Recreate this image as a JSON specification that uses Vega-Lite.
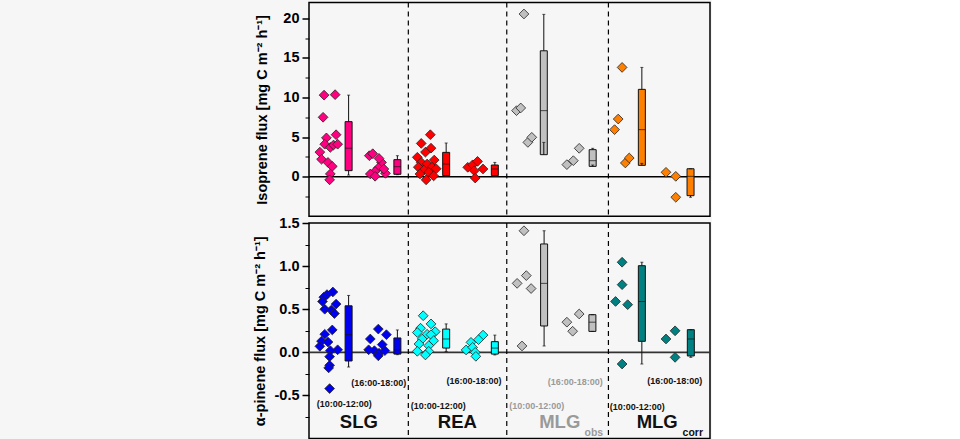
{
  "$schema": "https://vega.github.io/schema/vega-lite/v6.json",
  "background": "#f6f6f6",
  "autosize": {"type": "pad"},
  "padding": {"left": 251, "top": 0.5, "right": 0, "bottom": 0},
  "spacing": 6.5,
  "bounds": "flush",
  "config": {
    "view": {"stroke": "#000", "strokeWidth": 1.5},
    "font": "Liberation Sans",
    "axisY": {"labelFont": "Liberation Sans", "labelFontSize": 14.5, "labelFontWeight": "bold", "labelColor": "#000", "tickColor": "#000", "tickSize": 7, "tickWidth": 1.5, "labelPadding": 3, "domain": false, "grid": false, "titleFont": "Liberation Sans", "titleFontSize": 14.5, "titleFontWeight": "bold", "titleColor": "#000"}
  },
  "datasets": {
    "zero": [{"v": 0}],
    "divs": [{"x": 9.65}, {"x": 19.72}, {"x": 30.12}],
    "isoPts": [
      {"s": "SLG iso", "x": 1.03, "v": 10.3}, {"s": "SLG iso", "x": 2.16, "v": 10.36}, {"s": "SLG iso", "x": 0.93, "v": 7.5}, {"s": "SLG iso", "x": 2.26, "v": 5.3}, {"s": "SLG iso", "x": 1.27, "v": 4.9}, {"s": "SLG iso", "x": 1.1, "v": 4.1}, {"s": "SLG iso", "x": 1.67, "v": 3.7}, {"s": "SLG iso", "x": 2.0, "v": 4.0}, {"s": "SLG iso", "x": 2.42, "v": 4.1}, {"s": "SLG iso", "x": 0.6, "v": 3.1}, {"s": "SLG iso", "x": 0.77, "v": 2.2}, {"s": "SLG iso", "x": 1.43, "v": 1.8}, {"s": "SLG iso", "x": 1.87, "v": 1.3}, {"s": "SLG iso", "x": 1.67, "v": 0.35}, {"s": "SLG iso", "x": 1.6, "v": -0.4},
      {"s": "SLG iso", "x": 5.66, "v": 2.65}, {"s": "SLG iso", "x": 6.01, "v": 2.9}, {"s": "SLG iso", "x": 6.91, "v": 1.8}, {"s": "SLG iso", "x": 6.65, "v": 2.3}, {"s": "SLG iso", "x": 6.58, "v": 1.1}, {"s": "SLG iso", "x": 6.25, "v": 0.67}, {"s": "SLG iso", "x": 5.76, "v": 0.34}, {"s": "SLG iso", "x": 6.25, "v": 0.05}, {"s": "SLG iso", "x": 7.31, "v": 0.42}, {"s": "SLG iso", "x": 7.15, "v": 0.97},
      {"s": "REA iso", "x": 11.9, "v": 5.3}, {"s": "REA iso", "x": 10.97, "v": 4.2}, {"s": "REA iso", "x": 11.97, "v": 3.6}, {"s": "REA iso", "x": 11.4, "v": 3.1}, {"s": "REA iso", "x": 10.57, "v": 2.45}, {"s": "REA iso", "x": 12.3, "v": 2.1}, {"s": "REA iso", "x": 10.97, "v": 1.8}, {"s": "REA iso", "x": 11.57, "v": 1.6}, {"s": "REA iso", "x": 10.67, "v": 1.2}, {"s": "REA iso", "x": 12.07, "v": 1.2}, {"s": "REA iso", "x": 11.24, "v": 0.85}, {"s": "REA iso", "x": 12.5, "v": 1.0}, {"s": "REA iso", "x": 11.74, "v": 0.55}, {"s": "REA iso", "x": 10.84, "v": 0.34}, {"s": "REA iso", "x": 11.47, "v": -0.4}, {"s": "REA iso", "x": 12.24, "v": 0.1},
      {"s": "REA iso", "x": 15.73, "v": 1.18}, {"s": "REA iso", "x": 16.23, "v": 1.5}, {"s": "REA iso", "x": 16.73, "v": 1.93}, {"s": "REA iso", "x": 17.29, "v": 0.97}, {"s": "REA iso", "x": 16.39, "v": 0.76}, {"s": "REA iso", "x": 16.49, "v": -0.17},
      {"s": "MLGobs iso", "x": 21.48, "v": 20.55}, {"s": "MLGobs iso", "x": 20.72, "v": 8.34}, {"s": "MLGobs iso", "x": 21.15, "v": 8.68}, {"s": "MLGobs iso", "x": 21.88, "v": 4.33}, {"s": "MLGobs iso", "x": 22.28, "v": 4.97},
      {"s": "MLGobs iso", "x": 25.87, "v": 1.52}, {"s": "MLGobs iso", "x": 26.53, "v": 2.02}, {"s": "MLGobs iso", "x": 27.13, "v": 3.58},
      {"s": "MLGcorr iso", "x": 31.52, "v": 13.8}, {"s": "MLGcorr iso", "x": 31.12, "v": 7.28}, {"s": "MLGcorr iso", "x": 30.75, "v": 5.94}, {"s": "MLGcorr iso", "x": 31.85, "v": 1.73}, {"s": "MLGcorr iso", "x": 32.25, "v": 2.36},
      {"s": "MLGcorr iso", "x": 36.01, "v": 0.55}, {"s": "MLGcorr iso", "x": 37.01, "v": 0.04}, {"s": "MLGcorr iso", "x": 37.01, "v": -2.6}
    ],
    "isoBox": [
      {"s": "SLG iso", "x": 3.54, "lo": 0.2, "q1": 0.76, "med": 3.6, "q3": 6.95, "hi": 10.3},
      {"s": "SLG iso", "x": 8.53, "lo": 0.25, "q1": 0.3, "med": 1.26, "q3": 2.15, "hi": 2.65},
      {"s": "REA iso", "x": 13.52, "lo": 0.05, "q1": 0.13, "med": 1.6, "q3": 3.07, "hi": 4.25},
      {"s": "REA iso", "x": 18.5, "lo": 0.05, "q1": 0.13, "med": 0.97, "q3": 1.47, "hi": 1.8},
      {"s": "MLGobs iso", "x": 23.51, "lo": 4.33, "q1": 2.78, "med": 8.34, "q3": 15.9, "hi": 20.5},
      {"s": "MLGobs iso", "x": 28.51, "lo": 1.47, "q1": 1.3, "med": 2.02, "q3": 3.41, "hi": 3.58},
      {"s": "MLGcorr iso", "x": 33.54, "lo": 1.68, "q1": 1.43, "med": 5.94, "q3": 11.03, "hi": 13.8},
      {"s": "MLGcorr iso", "x": 38.52, "lo": -2.6, "q1": -2.4, "med": 0.04, "q3": 1.0, "hi": 1.0}
    ],
    "pinPts": [
      {"s": "SLG pin", "x": 1.93, "v": 0.7}, {"s": "SLG pin", "x": 1.33, "v": 0.67}, {"s": "SLG pin", "x": 1.0, "v": 0.64}, {"s": "SLG pin", "x": 0.87, "v": 0.59}, {"s": "SLG pin", "x": 2.26, "v": 0.56}, {"s": "SLG pin", "x": 1.1, "v": 0.5}, {"s": "SLG pin", "x": 1.77, "v": 0.49}, {"s": "SLG pin", "x": 2.09, "v": 0.45}, {"s": "SLG pin", "x": 1.87, "v": 0.26}, {"s": "SLG pin", "x": 1.1, "v": 0.21}, {"s": "SLG pin", "x": 0.77, "v": 0.13}, {"s": "SLG pin", "x": 1.43, "v": 0.12}, {"s": "SLG pin", "x": 0.6, "v": 0.07}, {"s": "SLG pin", "x": 2.42, "v": 0.03}, {"s": "SLG pin", "x": 1.67, "v": 0.02}, {"s": "SLG pin", "x": 1.6, "v": -0.05}, {"s": "SLG pin", "x": 1.6, "v": -0.15}, {"s": "SLG pin", "x": 1.5, "v": -0.18}, {"s": "SLG pin", "x": 1.6, "v": -0.42},
      {"s": "SLG pin", "x": 6.58, "v": 0.27}, {"s": "SLG pin", "x": 7.41, "v": 0.205}, {"s": "SLG pin", "x": 5.76, "v": 0.155}, {"s": "SLG pin", "x": 6.98, "v": 0.09}, {"s": "SLG pin", "x": 5.59, "v": 0.03}, {"s": "SLG pin", "x": 6.18, "v": 0.02}, {"s": "SLG pin", "x": 7.25, "v": 0.02}, {"s": "SLG pin", "x": 6.65, "v": -0.01}, {"s": "SLG pin", "x": 6.58, "v": -0.04},
      {"s": "REA pin", "x": 11.17, "v": 0.425}, {"s": "REA pin", "x": 11.97, "v": 0.33}, {"s": "REA pin", "x": 10.9, "v": 0.28}, {"s": "REA pin", "x": 10.57, "v": 0.23}, {"s": "REA pin", "x": 12.4, "v": 0.24}, {"s": "REA pin", "x": 11.57, "v": 0.21}, {"s": "REA pin", "x": 11.97, "v": 0.205}, {"s": "REA pin", "x": 11.07, "v": 0.155}, {"s": "REA pin", "x": 12.24, "v": 0.135}, {"s": "REA pin", "x": 10.74, "v": 0.097}, {"s": "REA pin", "x": 11.74, "v": 0.078}, {"s": "REA pin", "x": 10.57, "v": 0.012}, {"s": "REA pin", "x": 11.74, "v": 0.012}, {"s": "REA pin", "x": 11.4, "v": -0.03},
      {"s": "REA pin", "x": 17.29, "v": 0.2}, {"s": "REA pin", "x": 16.83, "v": 0.147}, {"s": "REA pin", "x": 16.06, "v": 0.116}, {"s": "REA pin", "x": 15.56, "v": 0.028}, {"s": "REA pin", "x": 16.23, "v": 0.058}, {"s": "REA pin", "x": 16.49, "v": 0.0}, {"s": "REA pin", "x": 16.56, "v": -0.046},
      {"s": "MLGobs pin", "x": 21.48, "v": 1.41}, {"s": "MLGobs pin", "x": 21.72, "v": 0.89}, {"s": "MLGobs pin", "x": 20.78, "v": 0.8}, {"s": "MLGobs pin", "x": 22.21, "v": 0.74}, {"s": "MLGobs pin", "x": 21.28, "v": 0.074},
      {"s": "MLGobs pin", "x": 27.13, "v": 0.445}, {"s": "MLGobs pin", "x": 25.87, "v": 0.35}, {"s": "MLGobs pin", "x": 26.46, "v": 0.245},
      {"s": "MLGcorr pin", "x": 31.52, "v": 1.045}, {"s": "MLGcorr pin", "x": 31.52, "v": 0.785}, {"s": "MLGcorr pin", "x": 30.85, "v": 0.59}, {"s": "MLGcorr pin", "x": 32.09, "v": 0.553}, {"s": "MLGcorr pin", "x": 31.52, "v": -0.135},
      {"s": "MLGcorr pin", "x": 36.94, "v": 0.25}, {"s": "MLGcorr pin", "x": 36.01, "v": 0.155}, {"s": "MLGcorr pin", "x": 36.94, "v": -0.058}
    ],
    "pinBox": [
      {"s": "SLG pin", "x": 3.54, "lo": -0.17, "q1": -0.1, "med": 0.205, "q3": 0.54, "hi": 0.66},
      {"s": "SLG pin", "x": 8.53, "lo": -0.027, "q1": -0.02, "med": 0.03, "q3": 0.167, "hi": 0.26},
      {"s": "REA pin", "x": 13.52, "lo": 0.01, "q1": 0.05, "med": 0.155, "q3": 0.27, "hi": 0.33},
      {"s": "REA pin", "x": 18.5, "lo": -0.03, "q1": -0.02, "med": 0.05, "q3": 0.124, "hi": 0.2},
      {"s": "MLGobs pin", "x": 23.54, "lo": 0.074, "q1": 0.306, "med": 0.8, "q3": 1.257, "hi": 1.41},
      {"s": "MLGobs pin", "x": 28.48, "lo": 0.243, "q1": 0.243, "med": 0.35, "q3": 0.437, "hi": 0.437},
      {"s": "MLGcorr pin", "x": 33.54, "lo": -0.135, "q1": 0.128, "med": 0.59, "q3": 1.005, "hi": 1.045},
      {"s": "MLGcorr pin", "x": 38.55, "lo": -0.058, "q1": -0.042, "med": 0.155, "q3": 0.263, "hi": 0.263}
    ],
    "times": [
      {"x": 3.09, "v": -0.6, "t": "(10:00-12:00)", "tone": "dark"},
      {"x": 6.63, "v": -0.36, "t": "(16:00-18:00)", "tone": "dark"},
      {"x": 12.72, "v": -0.62, "t": "(10:00-12:00)", "tone": "dark"},
      {"x": 16.36, "v": -0.33, "t": "(16:00-18:00)", "tone": "dark"},
      {"x": 22.79, "v": -0.62, "t": "(10:00-12:00)", "tone": "grey"},
      {"x": 26.73, "v": -0.34, "t": "(16:00-18:00)", "tone": "grey"},
      {"x": 33.07, "v": -0.63, "t": "(10:00-12:00)", "tone": "dark"},
      {"x": 36.91, "v": -0.33, "t": "(16:00-18:00)", "tone": "dark"}
    ],
    "groups": [
      {"x": 4.59, "v": -0.81, "t": "SLG", "tone": "dark"},
      {"x": 14.66, "v": -0.81, "t": "REA", "tone": "dark"},
      {"x": 25.14, "v": -0.81, "t": "MLG", "tone": "grey"},
      {"x": 35.11, "v": -0.81, "t": "MLG", "tone": "dark"}
    ],
    "subs": [
      {"x": 28.63, "v": -0.93, "t": "obs", "tone": "grey"},
      {"x": 38.75, "v": -0.94, "t": "corr", "tone": "dark"}
    ]
  },
  "vconcat": [
    {
      "width": 401,
      "height": 213.75,
      "resolve": {"scale": {"y": "shared"}, "axis": {"y": "independent"}},
      "layer": [
        {
          "data": {"name": "zero"},
          "mark": {"type": "rule", "color": "#000", "strokeWidth": 1.5},
          "encoding": {
            "y": {"field": "v", "type": "quantitative", "scale": {"domain": [-5, 22], "nice": false, "zero": false},
              "axis": {"orient": "left", "values": [0, 5, 10, 15, 20], "title": "Isoprene flux [mg C m⁻² h⁻¹]", "titlePadding": 13}}
          }
        },
        {
          "data": {"name": "divs"},
          "mark": {"type": "rule", "color": "#000", "strokeWidth": 1.2, "strokeDash": [5, 4]},
          "encoding": {"x": {"field": "x", "type": "quantitative", "scale": {"domain": [0, 40], "nice": false, "zero": false}, "axis": null}}
        },
        {
          "data": {"name": "isoBox"},
          "mark": {"type": "bar", "size": 7, "stroke": "#111", "strokeWidth": 1},
          "encoding": {
            "x": {"field": "x", "type": "quantitative", "axis": null},
            "y": {"field": "q1", "type": "quantitative", "axis": null},
            "y2": {"field": "q3"},
            "color": {"field": "s", "type": "nominal", "legend": null, "scale": {"domain": ["SLG iso", "REA iso", "MLGobs iso", "MLGcorr iso", "SLG pin", "REA pin", "MLGobs pin", "MLGcorr pin"], "range": ["#ff0080", "#ff0000", "#c0c0c0", "#ff8000", "#0000f0", "#00ffff", "#c0c0c0", "#008080"]}}
          }
        },
        {
          "data": {"name": "isoBox"},
          "mark": {"type": "rule", "color": "#111", "strokeWidth": 1},
          "encoding": {"x": {"field": "x", "type": "quantitative", "axis": null}, "y": {"field": "lo", "type": "quantitative", "axis": null}, "y2": {"field": "q1"}}
        },
        {
          "data": {"name": "isoBox"},
          "mark": {"type": "rule", "color": "#111", "strokeWidth": 1},
          "encoding": {"x": {"field": "x", "type": "quantitative", "axis": null}, "y": {"field": "q3", "type": "quantitative", "axis": null}, "y2": {"field": "hi"}}
        },
        {
          "data": {"name": "isoBox"},
          "mark": {"type": "tick", "orient": "horizontal", "color": "#111", "size": 7, "thickness": 1},
          "encoding": {"x": {"field": "x", "type": "quantitative", "axis": null}, "y": {"field": "med", "type": "quantitative", "axis": null}}
        },
        {
          "data": {"name": "isoBox"},
          "mark": {"type": "tick", "orient": "horizontal", "color": "#111", "size": 3, "thickness": 1},
          "encoding": {"x": {"field": "x", "type": "quantitative", "axis": null}, "y": {"field": "lo", "type": "quantitative", "axis": null}}
        },
        {
          "data": {"name": "isoBox"},
          "mark": {"type": "tick", "orient": "horizontal", "color": "#111", "size": 3, "thickness": 1},
          "encoding": {"x": {"field": "x", "type": "quantitative", "axis": null}, "y": {"field": "hi", "type": "quantitative", "axis": null}}
        },
        {
          "data": {"name": "isoPts"},
          "mark": {"type": "point", "shape": "diamond", "filled": true, "size": 95, "stroke": "#222", "strokeWidth": 0.8, "opacity": 1},
          "encoding": {
            "x": {"field": "x", "type": "quantitative", "axis": null},
            "y": {"field": "v", "type": "quantitative", "axis": {"orient": "left", "values": [-2.5, 2.5, 7.5, 12.5, 17.5], "labels": false, "title": null, "tickSize": 4, "tickWidth": 1}},
            "color": {"field": "s", "type": "nominal", "legend": null}
          }
        }
      ]
    },
    {
      "width": 401,
      "height": 215.6,
      "resolve": {"scale": {"y": "shared"}, "axis": {"y": "independent"}},
      "layer": [
        {
          "data": {"name": "zero"},
          "mark": {"type": "rule", "color": "#333", "strokeWidth": 1.8},
          "encoding": {
            "y": {"field": "v", "type": "quantitative", "scale": {"domain": [-1, 1.5], "nice": false, "zero": false},
              "axis": {"orient": "left", "values": [-0.5, 0, 0.5, 1, 1.5], "labelExpr": "replace(format(datum.value, '.1f'), '−', '-')", "title": "α-pinene flux [mg C m⁻² h⁻¹]", "titlePadding": 7}}
          }
        },
        {
          "data": {"name": "divs"},
          "mark": {"type": "rule", "color": "#000", "strokeWidth": 1.2, "strokeDash": [5, 4]},
          "encoding": {"x": {"field": "x", "type": "quantitative", "scale": {"domain": [0, 40], "nice": false, "zero": false}, "axis": null}}
        },
        {
          "data": {"name": "pinBox"},
          "mark": {"type": "bar", "size": 7, "stroke": "#111", "strokeWidth": 1},
          "encoding": {
            "x": {"field": "x", "type": "quantitative", "axis": null},
            "y": {"field": "q1", "type": "quantitative", "axis": null},
            "y2": {"field": "q3"},
            "color": {"field": "s", "type": "nominal", "legend": null}
          }
        },
        {
          "data": {"name": "pinBox"},
          "mark": {"type": "rule", "color": "#111", "strokeWidth": 1},
          "encoding": {"x": {"field": "x", "type": "quantitative", "axis": null}, "y": {"field": "lo", "type": "quantitative", "axis": null}, "y2": {"field": "q1"}}
        },
        {
          "data": {"name": "pinBox"},
          "mark": {"type": "rule", "color": "#111", "strokeWidth": 1},
          "encoding": {"x": {"field": "x", "type": "quantitative", "axis": null}, "y": {"field": "q3", "type": "quantitative", "axis": null}, "y2": {"field": "hi"}}
        },
        {
          "data": {"name": "pinBox"},
          "mark": {"type": "tick", "orient": "horizontal", "color": "#111", "size": 7, "thickness": 1},
          "encoding": {"x": {"field": "x", "type": "quantitative", "axis": null}, "y": {"field": "med", "type": "quantitative", "axis": null}}
        },
        {
          "data": {"name": "pinBox"},
          "mark": {"type": "tick", "orient": "horizontal", "color": "#111", "size": 3, "thickness": 1},
          "encoding": {"x": {"field": "x", "type": "quantitative", "axis": null}, "y": {"field": "lo", "type": "quantitative", "axis": null}}
        },
        {
          "data": {"name": "pinBox"},
          "mark": {"type": "tick", "orient": "horizontal", "color": "#111", "size": 3, "thickness": 1},
          "encoding": {"x": {"field": "x", "type": "quantitative", "axis": null}, "y": {"field": "hi", "type": "quantitative", "axis": null}}
        },
        {
          "data": {"name": "pinPts"},
          "mark": {"type": "point", "shape": "diamond", "filled": true, "size": 95, "stroke": "#222", "strokeWidth": 0.8, "opacity": 1},
          "encoding": {
            "x": {"field": "x", "type": "quantitative", "axis": null},
            "y": {"field": "v", "type": "quantitative", "axis": {"orient": "left", "values": [-0.75, -0.25, 0.25, 0.75, 1.25], "labels": false, "title": null, "tickSize": 4, "tickWidth": 1}},
            "color": {"field": "s", "type": "nominal", "legend": null}
          }
        },
        {
          "data": {"name": "times"},
          "mark": {"type": "text", "font": "Liberation Sans", "fontSize": 9, "fontWeight": "bold", "align": "center", "baseline": "middle"},
          "encoding": {
            "x": {"field": "x", "type": "quantitative", "axis": null},
            "y": {"field": "v", "type": "quantitative", "axis": null},
            "text": {"field": "t"},
            "fill": {"field": "tone", "type": "nominal", "legend": null, "scale": {"domain": ["dark", "grey"], "range": ["#111111", "#9a9a9a"]}}
          }
        },
        {
          "data": {"name": "groups"},
          "mark": {"type": "text", "font": "Liberation Sans", "fontSize": 18.5, "fontWeight": "bold", "align": "center", "baseline": "middle"},
          "encoding": {
            "x": {"field": "x", "type": "quantitative", "axis": null},
            "y": {"field": "v", "type": "quantitative", "axis": null},
            "text": {"field": "t"},
            "fill": {"field": "tone", "type": "nominal", "legend": null}
          }
        },
        {
          "data": {"name": "subs"},
          "mark": {"type": "text", "font": "Liberation Sans", "fontSize": 10.5, "fontWeight": "bold", "align": "center", "baseline": "middle"},
          "encoding": {
            "x": {"field": "x", "type": "quantitative", "axis": null},
            "y": {"field": "v", "type": "quantitative", "axis": null},
            "text": {"field": "t"},
            "fill": {"field": "tone", "type": "nominal", "legend": null}
          }
        }
      ]
    }
  ]
}
